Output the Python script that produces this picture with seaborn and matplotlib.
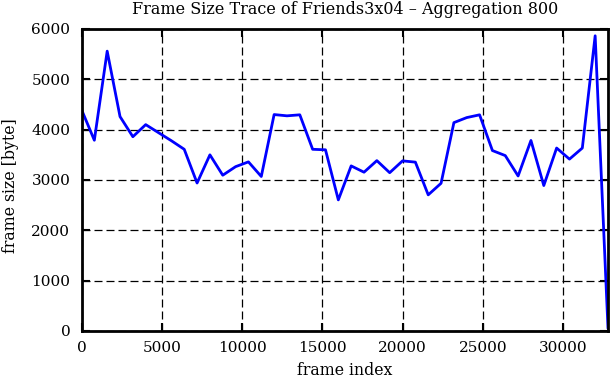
import matplotlib
matplotlib.use("Agg")
import matplotlib.pyplot as plt
import seaborn as sns
import pandas as pd

frame_index = [0, 800, 1600, 2400, 3200, 4000, 4800, 5600, 6400, 7200,
               8000, 8800, 9600, 10400, 11200, 12000, 12800, 13600, 14400, 15200,
               16000, 16800, 17600, 18400, 19200, 20000, 20800, 21600, 22400, 23200,
               24000, 24800, 25600, 26400, 27200, 28000, 28800, 29600, 30400, 31200,
               32000, 32800]
frame_size = [4400, 3790, 5560, 4260, 3860, 4100, 3940, 3780, 3610, 2940,
              3500, 3095, 3265, 3360, 3070, 4300, 4275, 4295, 3610, 3600,
              2605, 3280, 3155, 3385, 3145, 3380, 3355, 2705, 2935, 4140,
              4240, 4295, 3585, 3485, 3080, 3785, 2890, 3635, 3415, 3635,
              5865, 50]

x_ticks = [0, 5000, 10000, 15000, 20000, 25000, 30000]
y_ticks = [0, 1000, 2000, 3000, 4000, 5000, 6000]

df = pd.DataFrame({"frame index": frame_index, "frame size [byte]": frame_size})

sns.set_theme(style="white")
plt.rcParams["font.family"] = ["DejaVu Serif"]

fig = plt.figure(figsize=(6.11, 3.80), dpi=100)
ax = fig.add_axes([81.5 / 611, 49 / 380, (608 - 81.5) / 611, (331 - 29) / 380])

sns.lineplot(data=df, x="frame index", y="frame size [byte]", ax=ax,
             color="#0000ff", linewidth=2.0)

ax.set_xlim(0, 32800)
ax.set_ylim(0, 6000)
ax.set_xticks(x_ticks)
ax.set_yticks(y_ticks)
ax.set_xticklabels([str(t) for t in x_ticks])
ax.set_yticklabels([str(t) for t in y_ticks])

ax.grid(True, color="black", linestyle=(0, (6.4, 3.2)), linewidth=0.9)
ax.set_axisbelow(True)

for s in ax.spines.values():
    s.set_visible(True)
    s.set_color("black")
    s.set_linewidth(2.0)

ax.tick_params(axis="both", which="both", direction="in", length=6, width=1.5,
               top=True, right=True, bottom=True, left=True,
               labelsize=11, colors="black")
ax.tick_params(axis="y", pad=8)
ax.tick_params(axis="x", pad=7)

ax.set_xlabel("frame index", fontsize=11.3, color="black", labelpad=5)
ax.set_ylabel("frame size [byte]", fontsize=11.3, color="black")
ax.yaxis.set_label_coords(-0.118, 0.483)
ax.set_title("Frame Size Trace of Friends3x04 \u2013 Aggregation 800",
             fontsize=11.5, color="black", pad=11)

fig.savefig("out.png", dpi=100)
